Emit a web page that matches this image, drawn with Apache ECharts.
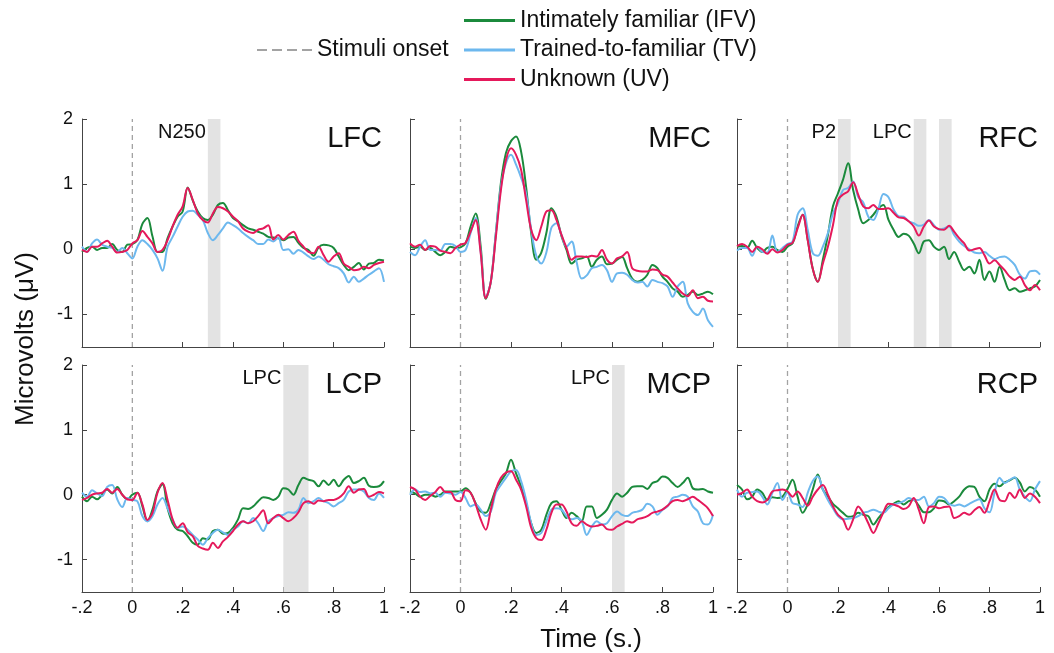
<!DOCTYPE html>
<html><head><meta charset="utf-8">
<script src="https://cdn.jsdelivr.net/npm/echarts@6/dist/echarts.min.js"></script>
<style>html,body{margin:0;padding:0;background:#fff}#c{width:1054px;height:653px}</style>
</head><body><div id="c"></div>
<script>
// ---- data ----
const time = [-0.2,-0.18,-0.16,-0.14,-0.12,-0.1,-0.08,-0.06,-0.04,-0.02,0,0.02,0.04,0.06,0.08,0.1,0.12,0.14,0.16,0.18,0.2,0.22,0.24,0.26,0.28,0.3,0.32,0.34,0.36,0.38,0.4,0.42,0.44,0.46,0.48,0.5,0.52,0.54,0.56,0.58,0.6,0.62,0.64,0.66,0.68,0.7,0.72,0.74,0.76,0.78,0.8,0.82,0.84,0.86,0.88,0.9,0.92,0.94,0.96,0.98,1];
const xTicks = [-0.2,0,0.2,0.4,0.6,0.8,1];
const yTicks = [-1,0,1,2];
const ONSET = 0;
const seriesNames = ['Intimately familiar (IFV)','Trained-to-familiar (TV)','Unknown (UV)'];
const onsetName = 'Stimuli onset';
const panelNames = ['LFC','MFC','RFC','LCP','MCP','RCP'];

const LFC_IFV = [-0.04,0.02,0.04,-0.01,0.02,0.02,0.08,-0.01,-0.04,0.07,0.08,0.14,0.39,0.48,0.2,-0.04,-0.04,0.17,0.35,0.5,0.58,0.95,0.75,0.58,0.48,0.45,0.53,0.68,0.71,0.6,0.48,0.43,0.37,0.32,0.3,0.27,0.24,0.19,0.18,0.17,0.14,0.18,0.19,0.1,0.02,-0.01,-0.1,0.03,0.07,0.06,0.02,-0.11,-0.24,-0.32,-0.27,-0.21,-0.31,-0.22,-0.21,-0.16,-0.17];
const LFC_TV = [0.04,-0.04,0.09,0.15,0.07,0.04,0.02,-0.04,0.02,-0.06,-0.14,0.04,0.14,0.08,-0.01,-0.14,-0.33,0.04,0.19,0.35,0.5,0.58,0.59,0.53,0.45,0.25,0.14,0.22,0.32,0.41,0.37,0.32,0.25,0.19,0.14,0.08,0.08,0.15,0.12,0.18,-0.01,0,-0.07,-0.01,-0.05,-0.11,-0.15,-0.11,-0.16,-0.23,-0.26,-0.29,-0.37,-0.51,-0.42,-0.5,-0.45,-0.39,-0.34,-0.29,-0.5];
const LFC_UV = [-0.01,-0.04,0.04,0.04,0.09,0.13,0.04,-0.05,-0.04,-0.01,0.09,0.14,0.28,0.19,0.09,-0.04,-0.01,0.14,0.35,0.53,0.66,0.94,0.76,0.55,0.45,0.41,0.55,0.65,0.63,0.58,0.5,0.43,0.32,0.27,0.25,0.3,0.32,0.37,0.15,0.22,0.15,0.22,0.27,0.13,0.04,-0.04,-0.06,0.04,-0.09,-0.19,-0.11,-0.06,-0.22,-0.27,-0.32,-0.31,-0.27,-0.29,-0.24,-0.21,-0.19];

const MFC_IFV = [0.04,0.02,0.04,-0.01,0.02,-0.04,-0.09,-0.04,0.04,0.02,0.03,0.09,0.35,0.55,0.04,-0.76,-0.5,0.25,1.02,1.48,1.66,1.73,1.5,0.95,0.25,-0.16,-0.05,0.25,0.63,0.5,0.2,-0.01,-0.22,-0.16,-0.14,-0.11,-0.27,-0.16,-0.11,-0.23,-0.22,-0.16,-0.12,-0.29,-0.45,-0.5,-0.47,-0.39,-0.24,-0.29,-0.42,-0.5,-0.6,-0.65,-0.73,-0.7,-0.65,-0.7,-0.68,-0.65,-0.69];
const MFC_TV = [-0.04,-0.09,0.04,0.14,-0.01,-0.01,-0.02,0.08,0.08,0.05,-0.04,-0.01,0.25,0.48,-0.04,-0.74,-0.5,0.25,0.96,1.32,1.45,1.3,1.1,0.85,0.3,-0.1,-0.22,-0.05,0.33,0.4,0.22,0.04,0.12,-0.2,-0.45,-0.4,-0.29,-0.27,-0.24,-0.32,-0.5,-0.37,-0.36,-0.39,-0.47,-0.51,-0.5,-0.57,-0.47,-0.5,-0.52,-0.57,-0.73,-0.57,-0.5,-0.83,-0.96,-1.01,-0.91,-1.09,-1.19];
const MFC_UV = [0.09,0.04,0.07,-0.01,0.05,0.04,-0.02,-0.04,-0.06,0.02,0.07,0.1,0.27,0.45,-0.06,-0.75,-0.5,0.19,0.91,1.37,1.55,1.45,1.22,0.75,0.3,0.14,0.35,0.58,0.6,0.45,0.22,0.02,-0.16,-0.11,-0.11,-0.12,-0.1,-0.11,-0.01,-0.16,-0.22,-0.14,-0.11,-0.04,-0.29,-0.33,-0.34,-0.34,-0.31,-0.32,-0.39,-0.42,-0.51,-0.6,-0.68,-0.72,-0.63,-0.75,-0.73,-0.79,-0.8];

const RFC_IFV = [0.04,0.05,0.02,0.13,0.02,-0.04,0.02,0.04,-0.01,-0.04,0.04,0.09,0.35,0.53,0.15,-0.3,-0.5,-0.16,0.22,0.66,0.86,1.07,1.32,0.91,0.61,0.4,0.45,0.53,0.63,0.68,0.45,0.3,0.19,0.24,0.21,0.09,-0.06,0.12,0.14,0.04,-0.01,0.04,-0.15,-0.04,-0.19,-0.32,-0.27,-0.37,-0.16,-0.47,-0.34,-0.5,-0.27,-0.47,-0.63,-0.6,-0.65,-0.63,-0.6,-0.57,-0.47];
const RFC_TV = [-0.02,0.02,0.02,-0.1,0.04,-0.04,-0.05,0.21,-0.04,0.02,0.08,0.12,0.53,0.63,0.3,-0.06,-0.1,0.04,0.25,0.55,0.71,0.91,0.94,1.04,0.8,0.72,0.5,0.45,0.62,0.85,0.8,0.61,0.51,0.5,0.43,0.4,0.36,0.38,0.45,0.37,0.3,0.32,0.35,0.22,0.12,0.05,0,-0.05,-0.06,-0.04,-0.1,-0.15,-0.12,-0.11,-0.16,-0.24,-0.39,-0.45,-0.34,-0.33,-0.39];
const RFC_UV = [0.05,0.08,0.04,-0.04,0.04,0,-0.07,0,-0.05,-0.01,0.07,0.1,0.32,0.53,0.14,-0.3,-0.5,-0.22,0.04,0.37,0.76,0.84,0.89,1.03,0.84,0.66,0.63,0.68,0.62,0.62,0.63,0.56,0.49,0.48,0.43,0.35,0.21,0.35,0.44,0.35,0.31,0.3,0.36,0.27,0.17,0.09,-0.02,0,0.02,-0.09,-0.22,-0.17,-0.24,-0.32,-0.42,-0.47,-0.42,-0.55,-0.63,-0.55,-0.63];

const LCP_IFV = [-0.03,-0.1,-0.03,-0.07,0,0.08,0.02,0.12,0,-0.07,0,0.03,-0.18,-0.41,-0.23,0.05,0.16,-0.21,-0.44,-0.54,-0.56,-0.64,-0.74,-0.77,-0.67,-0.69,-0.56,-0.54,-0.6,-0.59,-0.51,-0.38,-0.21,-0.22,-0.18,-0.1,-0.04,-0.05,-0.08,-0.03,0.1,0.08,0,0.15,0.26,0.23,0.21,0.13,0.22,0.15,0.23,0.13,0.23,0.29,0.18,0.21,0.26,0.14,0.12,0.13,0.21];
const LCP_TV = [0.03,-0.03,0.07,0.02,-0.02,0.12,0.15,-0.07,-0.19,-0.05,-0.08,-0.1,-0.33,-0.41,-0.33,-0.15,-0.05,-0.21,-0.38,-0.51,-0.49,-0.54,-0.62,-0.69,-0.77,-0.67,-0.59,-0.54,-0.58,-0.62,-0.54,-0.49,-0.41,-0.44,-0.36,-0.44,-0.56,-0.41,-0.36,-0.33,-0.31,-0.27,-0.28,-0.23,-0.05,-0.13,-0.1,-0.05,-0.1,-0.13,-0.18,-0.13,-0.08,0.05,0.08,0.08,0.05,-0.05,-0.08,0.02,-0.05];
const LCP_UV = [-0.08,-0.05,0,0.02,0.03,0.09,0.03,0.09,0,-0.07,-0.08,0.03,-0.15,-0.39,-0.28,0.03,0.18,-0.08,-0.38,-0.51,-0.44,-0.58,-0.64,-0.79,-0.83,-0.85,-0.74,-0.82,-0.72,-0.65,-0.56,-0.46,-0.41,-0.44,-0.41,-0.33,-0.24,-0.44,-0.36,-0.31,-0.36,-0.41,-0.36,-0.27,-0.13,-0.1,-0.14,-0.09,-0.1,-0.08,-0.08,-0.05,0.02,0.13,0.03,0.08,0.09,-0.03,0,0.04,0.02];

const MCP_IFV = [0.05,0.02,-0.03,0,0,-0.03,0,0.05,0.05,0.05,0.05,0.1,0.03,-0.13,-0.26,-0.28,-0.13,0.08,0.21,0.33,0.54,0.33,0.13,-0.13,-0.44,-0.59,-0.54,-0.31,-0.13,-0.1,-0.23,-0.36,-0.28,-0.33,-0.41,-0.18,-0.18,-0.36,-0.31,-0.23,-0.08,0.02,-0.03,0.03,0.12,0.13,0.13,0.09,0.18,0.21,0.28,0.26,0.18,0.12,0.18,0.26,0.1,0.08,0.09,0.05,0.03];
const MCP_TV = [0,0.08,0.04,0.05,0.02,0.03,-0.03,0.03,0.02,0,0.04,-0.05,-0.18,-0.15,-0.23,-0.33,-0.26,0.03,0.15,0.26,0.36,0.38,0.21,-0.08,-0.44,-0.62,-0.59,-0.41,-0.23,-0.21,-0.23,-0.33,-0.38,-0.36,-0.41,-0.62,-0.49,-0.41,-0.46,-0.44,-0.33,-0.26,-0.31,-0.33,-0.28,-0.26,-0.23,-0.14,-0.18,-0.31,-0.23,-0.18,-0.05,-0.03,0,-0.03,-0.18,-0.26,-0.44,-0.46,-0.31];
const MCP_UV = [0.12,0.08,-0.03,-0.08,-0.02,0.04,0.12,0.04,0.04,-0.08,-0.1,0.07,0.03,-0.15,-0.38,-0.54,-0.23,0.08,0.26,0.34,0.36,0.23,0.08,-0.18,-0.51,-0.67,-0.7,-0.54,-0.28,-0.15,-0.15,-0.26,-0.44,-0.48,-0.41,-0.46,-0.49,-0.48,-0.46,-0.53,-0.54,-0.49,-0.45,-0.41,-0.43,-0.38,-0.36,-0.33,-0.28,-0.26,-0.23,-0.17,-0.1,-0.08,-0.1,-0.07,-0.03,-0.08,-0.14,-0.21,-0.33];

const RCP_IFV = [0.15,0.08,-0.07,-0.03,0.08,0.03,-0.08,-0.04,-0.05,-0.03,0.09,0.23,-0.03,-0.28,-0.15,0.08,0.31,0.08,-0.03,-0.14,-0.21,-0.28,-0.34,-0.33,-0.28,-0.31,-0.33,-0.46,-0.36,-0.27,-0.19,-0.14,-0.1,-0.15,-0.1,-0.08,-0.17,-0.27,-0.27,-0.21,-0.09,-0.1,-0.15,-0.1,-0.03,0.08,0.13,0.12,-0.03,-0.1,0.08,0.17,0.13,0.19,0.22,0.26,0.19,0.05,0.12,0.08,-0.03];
const RCP_TV = [0.08,-0.03,0.03,0.04,0.05,-0.03,-0.15,0.03,0.18,-0.08,0.03,-0.13,-0.15,-0.19,0.03,0.21,0.28,0.08,-0.08,-0.21,-0.33,-0.38,-0.37,-0.36,-0.33,-0.28,-0.26,-0.23,-0.26,-0.28,-0.21,-0.15,-0.13,-0.1,-0.05,-0.08,-0.08,-0.03,-0.18,-0.13,-0.03,-0.05,-0.14,-0.17,-0.15,-0.18,-0.14,-0.1,-0.07,-0.21,-0.27,0.03,0.26,0.18,0.23,0.27,0.08,-0.03,-0.1,0.08,0.21];
const RCP_UV = [0,0.03,0.08,-0.03,-0.1,-0.12,-0.08,0.05,0.07,0.08,0.05,-0.03,0.05,-0.05,-0.17,-0.03,0.08,0.15,0,-0.18,-0.31,-0.38,-0.54,-0.38,-0.18,-0.28,-0.44,-0.59,-0.44,-0.27,-0.14,-0.15,-0.18,-0.22,-0.18,-0.05,-0.23,-0.44,-0.19,-0.18,-0.21,-0.19,-0.18,-0.36,-0.33,-0.28,-0.31,-0.24,-0.19,-0.28,-0.1,0.08,-0.08,-0.1,0.03,-0.05,0.08,-0.05,0.02,-0.03,-0.13];

// significant windows (s) and their labels
const LFC_BANDS = [[0.3,0.35]];
const RFC_BANDS = [[0.2,0.25],[0.5,0.55],[0.6,0.65]];
const LCP_BANDS = [[0.6,0.7]];
const MCP_BANDS = [[0.6,0.65]];
const LFC_NOTES = ['N250'];
const RFC_NOTES = ['P2','LPC',''];
const LCP_NOTES = ['LPC'];
const MCP_NOTES = ['LPC'];

// ---- layout / style ----
const colors = ['#1b8a3c','#6db8ee','#e5195b'];
const onsetColor = '#a3a3a3';
const FONT = "'Liberation Sans', Arial, sans-serif";
const W = 1054;
const grids = [
  {left:82, top:119, width:302, height:228},
  {left:410, top:119, width:303, height:228},
  {left:737, top:119, width:303, height:228},
  {left:82, top:365, width:302, height:227},
  {left:410, top:365, width:303, height:227},
  {left:737, top:365, width:303, height:227}
];
const panels = [
  {vals:[LFC_IFV,LFC_TV,LFC_UV], bands:LFC_BANDS, notes:LFC_NOTES},
  {vals:[MFC_IFV,MFC_TV,MFC_UV], bands:[], notes:[]},
  {vals:[RFC_IFV,RFC_TV,RFC_UV], bands:RFC_BANDS, notes:RFC_NOTES},
  {vals:[LCP_IFV,LCP_TV,LCP_UV], bands:LCP_BANDS, notes:LCP_NOTES},
  {vals:[MCP_IFV,MCP_TV,MCP_UV], bands:MCP_BANDS, notes:MCP_NOTES},
  {vals:[RCP_IFV,RCP_TV,RCP_UV], bands:[], notes:[]}
];
const axisColor = '#444444';
const fmtX = v => {
  const r = Math.round(v*10)/10;
  if (r === 0) return '0';
  if (r === 1) return '1';
  return String(r).replace('0.', '.');
};

const xAxes = [], yAxes = [], series = [], titles = [];
grids.forEach((g, i) => {
  const bottomRow = i >= 3, leftCol = i % 3 === 0;
  xAxes.push({
    type:'value', gridIndex:i, min:-0.2, max:1, position:'bottom',
    axisLine:{show:true, onZero:false, lineStyle:{color:axisColor, width:1}},
    axisTick:{show:true, inside:true, length:5, customValues:xTicks, lineStyle:{color:axisColor}},
    axisLabel:{show:bottomRow, customValues:xTicks, formatter:fmtX, color:'#111', fontSize:18, margin:7, fontFamily:FONT},
    splitLine:{show:false}
  });
  yAxes.push({
    type:'value', gridIndex:i, min:-1.5, max:2, position:'left',
    axisLine:{show:true, onZero:false, lineStyle:{color:axisColor, width:1}},
    axisTick:{show:true, inside:true, length:5, customValues:yTicks, lineStyle:{color:axisColor}},
    axisLabel:{show:leftCol, customValues:yTicks, color:'#111', fontSize:18, margin:9, fontFamily:FONT},
    splitLine:{show:false}
  });
  titles.push({
    text: panelNames[i], right: W - (g.left + g.width) + 2, top: g.top + 5, padding:0,
    textStyle:{fontSize:29, fontWeight:'normal', color:'#111', fontFamily:FONT}
  });
  const p = panels[i];
  // onset line + shaded windows
  series.push({
    name: onsetName, type:'line', xAxisIndex:i, yAxisIndex:i, z:2,
    data: [[ONSET,-1.5],[ONSET,2]], symbol:'none', silent:true,
    lineStyle:{color:onsetColor, width:1.3, type:[5,4]},
    itemStyle:{color:onsetColor},
    markArea:{
      silent:true, itemStyle:{color:'#e3e3e3', opacity:1},
      data: p.bands.map((b, k) => [
        {xAxis:b[0], label:{show: !!(p.notes[k]), formatter: p.notes[k] || '', position:[-2, 3], align:'right', verticalAlign:'top', color:'#111', fontSize:20, fontFamily:FONT}},
        {xAxis:b[1]}
      ])
    }
  });
  p.vals.forEach((arr, k) => {
    series.push({
      name: seriesNames[k], type:'line', xAxisIndex:i, yAxisIndex:i, z:3+k,
      data: time.map((t, j) => [t, arr[j]]),
      symbol:'none', smooth:0.35, silent:true,
      lineStyle:{color:colors[k], width:2}, itemStyle:{color:colors[k]}
    });
  });
});

const chart = echarts.init(document.getElementById('c'), null, {renderer:'canvas'});
chart.setOption({
  animation:false,
  textStyle:{fontFamily:FONT},
  title: titles,
  grid: grids.map(g => Object.assign({containLabel:false, outerBoundsMode:'none'}, g)),
  xAxis: xAxes,
  yAxis: yAxes,
  legend: [
    {data:seriesNames.map(n => ({name:n, icon:'rect'})), orient:'vertical', left:464, top:9, padding:0,
     itemWidth:51, itemHeight:3, itemGap:6.5, selectedMode:false,
     textStyle:{fontSize:23, color:'#111', fontFamily:FONT, lineHeight:23}},
    {data:[{name:onsetName, icon:'path://M0,0h10v2h-10z M15,0h10v2h-10z M30,0h10v2h-10z M45,0h10v2h-10z'}],
     left:257, top:38.5, padding:0, itemWidth:55, itemHeight:3, selectedMode:false,
     textStyle:{fontSize:23, color:'#111', fontFamily:FONT, lineHeight:23}}
  ],
  graphic: [
    {type:'text', x:26, y:339, rotation:Math.PI/2,
     style:{text:'Microvolts (μV)', fontSize:26, fill:'#111', fontFamily:FONT, align:'center', verticalAlign:'middle'}},
    {type:'text', x:591, y:640,
     style:{text:'Time (s.)', fontSize:26, fill:'#111', fontFamily:FONT, align:'center', verticalAlign:'middle'}}
  ],
  series: series
});
</script></body></html>
